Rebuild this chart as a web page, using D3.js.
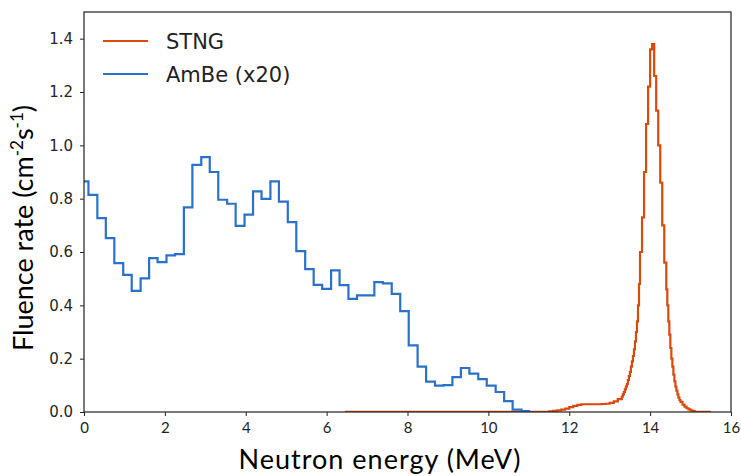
<!DOCTYPE html>
<html>
<head>
<meta charset="utf-8">
<script src="https://cdn.jsdelivr.net/npm/d3@7"></script>
<style>
  body { margin: 0; background: #fff; }
  svg { display: block; }
</style>
</head>
<body>
<svg width="741" height="476"></svg>
<script>
// AmBe (x20): bin edges (MeV) and fluence rate per bin
const ambeEdges = [0, 0.11, 0.33, 0.54, 0.75, 0.97, 1.18, 1.40, 1.61, 1.82, 2.04, 2.25, 2.47, 2.68,
  2.90, 3.11, 3.32, 3.54, 3.75, 3.97, 4.18, 4.39, 4.61, 4.82, 5.04, 5.25, 5.47, 5.68, 5.89, 6.11,
  6.32, 6.54, 6.75, 6.96, 7.18, 7.39, 7.61, 7.82, 8.03, 8.25, 8.46, 8.68, 8.89, 9.11, 9.32, 9.53,
  9.75, 9.96, 10.18, 10.39, 10.60, 10.82, 11.03];
const ambeValues = [0.865, 0.814, 0.727, 0.652, 0.558, 0.514, 0.454, 0.501, 0.577, 0.562,
  0.587, 0.592, 0.767, 0.927, 0.956, 0.900, 0.796, 0.781, 0.698, 0.740,
  0.827, 0.799, 0.865, 0.789, 0.712, 0.603, 0.536, 0.477, 0.462, 0.531,
  0.476, 0.424, 0.437, 0.437, 0.487, 0.482, 0.443, 0.378, 0.250, 0.170,
  0.114, 0.099, 0.101, 0.131, 0.165, 0.144, 0.123, 0.099, 0.075, 0.041,
  0.009, 0.003];

// STNG: bin edges (MeV) and values
const stngEdges = [6.45, 11.5, 11.6, 11.7, 11.8, 11.9, 12.0, 12.1, 12.2, 12.3, 12.4, 12.5, 12.6,
  12.7, 12.8, 12.9, 13.0, 13.1, 13.2,
  13.3, 13.325, 13.35, 13.375, 13.4, 13.425, 13.45, 13.475, 13.5, 13.525, 13.55, 13.575, 13.6,
  13.625, 13.65, 13.675, 13.7, 13.725,
  13.75, 13.8, 13.85, 13.9, 13.95, 14.0, 14.05, 14.1, 14.15, 14.2, 14.25, 14.3, 14.35,
  14.4, 14.425, 14.45, 14.475, 14.5, 14.525, 14.55, 14.575, 14.6, 14.625, 14.65, 14.675, 14.7,
  14.725, 14.75,
  14.8, 14.85, 14.9, 14.95, 15.0, 15.05, 15.1, 15.5];
const stngValues = [0.001, 0.002, 0.004, 0.006, 0.009, 0.013, 0.018, 0.023, 0.027, 0.029, 0.029,
  0.029, 0.029, 0.029, 0.030, 0.031, 0.034, 0.040, 0.048,
  0.058, 0.066, 0.075, 0.085, 0.095, 0.105, 0.12, 0.135, 0.15, 0.17, 0.19, 0.21, 0.235, 0.265,
  0.30, 0.34, 0.40, 0.48,
  0.60, 0.73, 0.90, 1.08, 1.22, 1.36, 1.38, 1.26, 1.13, 1.00, 0.86, 0.70, 0.56,
  0.46, 0.40, 0.34, 0.29, 0.24, 0.20, 0.17, 0.14, 0.115, 0.095, 0.08, 0.066, 0.054, 0.045, 0.038,
  0.028, 0.020, 0.014, 0.010, 0.006, 0.003, 0.001];

const xTicks = [0, 2, 4, 6, 8, 10, 12, 14, 16];
const yTicks = [0, 0.2, 0.4, 0.6, 0.8, 1.0, 1.2, 1.4];

const seriesNames = ["STNG", "AmBe (x20)"];
const colors = ["#d94a0b", "#2a72c9"];

const svg = d3.select("svg"),
    margin = {top: 12, right: 10, bottom: 64, left: 84},
    width = +svg.attr("width") - margin.left - margin.right,
    height = +svg.attr("height") - margin.top - margin.bottom,
    g = svg.append("g").attr("transform", "translate(" + margin.left + "," + margin.top + ")");

const x = d3.scaleLinear().domain([0, 16]).range([0, width]);
const y = d3.scaleLinear().domain([0, 1.5]).range([height, 0]);

// histogram points: each edge with the value of the bin that starts there
function steps(edges, values) {
  return edges.map(function(e, i) {
    return [e, values[Math.min(i, values.length - 1)]];
  });
}

const line = d3.line()
    .curve(d3.curveStepAfter)
    .x(function(d) { return x(d[0]); })
    .y(function(d) { return y(d[1]); });

// axes
const xAxis = g.append("g")
    .attr("transform", "translate(0," + height + ")")
    .call(d3.axisBottom(x).tickValues(xTicks).tickSize(4).tickPadding(6).tickFormat(d3.format("d")));
xAxis.selectAll("text")
    .style("font-family", "Lato, sans-serif")
    .style("font-size", "15px")
    .attr("fill", "#222");

const yAxis = g.append("g")
    .call(d3.axisLeft(y).tickValues(yTicks).tickSize(4).tickPadding(7).tickFormat(d3.format(".1f")));
yAxis.selectAll("text")
    .style("font-family", "DejaVu Sans, sans-serif")
    .style("font-size", "15px")
    .attr("fill", "#262626");

g.selectAll(".domain").remove();
g.selectAll(".tick line").attr("stroke", "#222");

g.append("defs").append("clipPath").attr("id", "clip")
  .append("rect").attr("width", width).attr("height", height);

const lines = g.append("g").attr("clip-path", "url(#clip)");
lines.append("path")
    .datum(steps(stngEdges, stngValues))
    .attr("fill", "none")
    .attr("stroke", colors[0])
    .attr("stroke-width", 2.2)
    .attr("d", line);
lines.append("path")
    .datum(steps(ambeEdges, ambeValues))
    .attr("fill", "none")
    .attr("stroke", colors[1])
    .attr("stroke-width", 2.2)
    .attr("d", line);

// frame
g.append("rect")
    .attr("width", width)
    .attr("height", height)
    .attr("fill", "none")
    .attr("stroke", "#222")
    .attr("stroke-width", 1.2);

// legend
const legend = g.append("g").attr("transform", "translate(19,29)");
seriesNames.forEach(function(name, i) {
  legend.append("line")
      .attr("x1", 0).attr("x2", 45)
      .attr("y1", i * 33).attr("y2", i * 33)
      .attr("stroke", colors[i]).attr("stroke-width", 2.2);
  legend.append("text")
      .attr("x", 63).attr("y", i * 33)
      .attr("dy", "0.36em")
      .style("font-family", "DejaVu Sans, sans-serif")
      .style("font-size", "21px")
      .attr("fill", "#222")
      .text(name);
});

// axis titles
svg.append("text")
    .attr("x", 380)
    .attr("y", 469)
    .attr("text-anchor", "middle")
    .style("font-family", "Lato, sans-serif")
    .style("font-size", "27px")
    .style("letter-spacing", "1px")
    .attr("fill", "#000")
    .text("Neutron energy (MeV)");

const yt = svg.append("text")
    .attr("transform", "translate(33," + 228 + ") rotate(-90)")
    .attr("text-anchor", "middle")
    .style("font-family", "Lato, sans-serif")
    .style("font-size", "27px")
    .attr("fill", "#000");
yt.append("tspan").text("Fluence rate (cm");
yt.append("tspan").attr("baseline-shift", "super").style("font-size", "17px").text("-2");
yt.append("tspan").text("s");
yt.append("tspan").attr("baseline-shift", "super").style("font-size", "17px").text("-1");
yt.append("tspan").text(")");
</script>
</body>
</html>
